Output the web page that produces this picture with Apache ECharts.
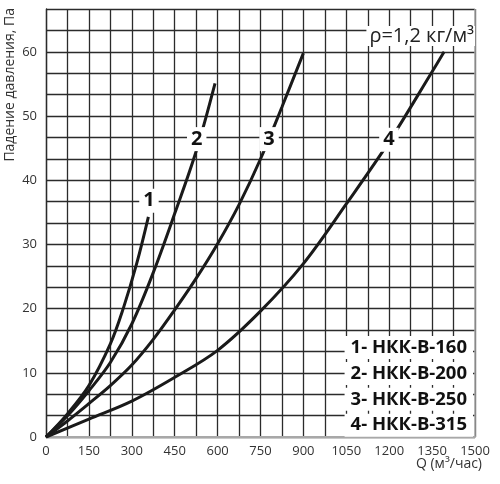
<!DOCTYPE html>
<html><head><meta charset="utf-8">
<script src="https://cdn.jsdelivr.net/npm/echarts@6/dist/echarts.min.js"></script>
<style>html,body{margin:0;padding:0;background:#fff}#c{width:500px;height:484px}</style>
</head><body><div id="c"></div>
<script>
// Data (Q in m3/h, P in Pa)
const curve1 = [[0,0],[75,3.6],[150,8],[225,14.5],[270,20],[317,27],[358,34.3]];
const curve2 = [[0,0],[75,3.3],[150,7.2],[225,11.6],[300,17.6],[375,25.6],[450,34.8],[525,44.5],[591,55.1]];
const curve3 = [[0,0],[75,2.5],[150,5.2],[225,8],[300,11.2],[375,15.2],[450,19.8],[525,24.7],[600,30.1],[675,36.2],[750,43.3],[825,51.4],[900,59.8]];
const curve4 = [[0,0],[150,2.8],[300,5.6],[450,9.3],[600,13.5],[750,19.6],[900,27],[1050,36.3],[1200,46],[1350,56.9],[1392,60]];
const curveNames = ['1','2','3','4'];
const curveLabelPos = [[360,36.8],[527,46.4],[780,46.4],[1199,46.3]];
const legendRows = ['1- НКК-В-160','2- НКК-В-200','3- НКК-В-250','4- НКК-В-315'];
const xTickLabelStep = 150;
const yTickLabelStep = 10;
const xMin = 0, xMax = 1500, xGridStep = 75;
const yMin = 0, yMax = 200/3, yGridStep = 10/3;
const yAxisTitle = 'Падение давления, Па';
const xAxisTitle = 'Q (м³/час)';
const densityText = 'ρ=1,2 кг/м³';

const chart = echarts.init(document.getElementById('c'), null, {renderer:'canvas'});
const font = '"Open Sans", "Noto Sans", sans-serif';
const curves = [curve1, curve2, curve3, curve4];
const isMultiple = (v, s) => Math.abs(v/s - Math.round(v/s)) < 1e-6;

const series = curves.map((d, i) => ({
  type: 'line', data: d, smooth: 0.35, symbol: 'none', z: 3,
  lineStyle: {color: '#1a1a1a', width: 3}
}));
series.push({
  type: 'scatter', zlevel: 1, z: 5, symbolSize: 1, silent: true,
  itemStyle: {color: '#fff', opacity: 1},
  data: curveLabelPos.map((p, i) => ({value: p, name: curveNames[i]})),
  label: {show: true, position: 'inside', formatter: p => p.name,
    fontFamily: font, fontWeight: 'bold', fontSize: 20, color: '#111',
    backgroundColor: '#fff', padding: [1, 4, 0, 4], lineHeight: 23}
});

const legendGraphics = legendRows.map((t, i) => ({
  type: 'text', right: 27, top: 336 + i * 25.9, z: 10, zlevel: 1,
  style: {text: t, font: 'bold 18.5px ' + font, fill: '#111',
    backgroundColor: '#fff', padding: [2, 6, 2, 6]}
}));

chart.setOption({
  animation: false,
  backgroundColor: '#fff',
  grid: {left: 46, right: 25, top: 9, bottom: 47},
  xAxis: {
    type: 'value', min: xMin, max: xMax, interval: xGridStep,
    axisLine: {show: true, lineStyle: {color: '#a8a8a8', width: 2}},
    axisTick: {show: false},
    axisLabel: {formatter: v => isMultiple(v, xTickLabelStep) ? String(Math.round(v)) : '',
      fontFamily: font, fontSize: 13, color: '#333', margin: 8, showMaxLabel: true, showMinLabel: true},
    splitLine: {show: true, lineStyle: {color: '#2b2b2b', width: 1.3}}
  },
  yAxis: {
    type: 'value', min: yMin, max: yMax, interval: yGridStep,
    axisLine: {show: true, lineStyle: {color: '#2b2b2b', width: 1.3}},
    axisTick: {show: false},
    axisLabel: {formatter: v => isMultiple(v, yTickLabelStep) ? String(Math.round(v)) : '',
      fontFamily: font, fontSize: 13, color: '#333', margin: 9},
    splitLine: {show: true, lineStyle: {color: '#2b2b2b', width: 1.3}}
  },
  graphic: [
    {type: 'text', z: 10, rotation: Math.PI/2, x: 3, y: 8,
      style: {text: yAxisTitle, font: '14px ' + font, fill: '#333', textAlign: 'right', textVerticalAlign: 'top'}},
    {type: 'text', right: 18, top: 457, z: 10,
      style: {text: xAxisTitle, font: '14px ' + font, fill: '#333'}},
    {type: 'text', right: 25, top: 26, z: 10, zlevel: 1,
      style: {text: densityText, font: '20px ' + font, fill: '#222', backgroundColor: '#fff', padding: [0, 1, 0, 3]}},
    {type: 'line', z: 2, shape: {x1: 475, y1: 9, x2: 475, y2: 437}, style: {stroke: '#a8a8a8', lineWidth: 1.5}}
  ].concat(legendGraphics),
  series: series
});
</script></body></html>
